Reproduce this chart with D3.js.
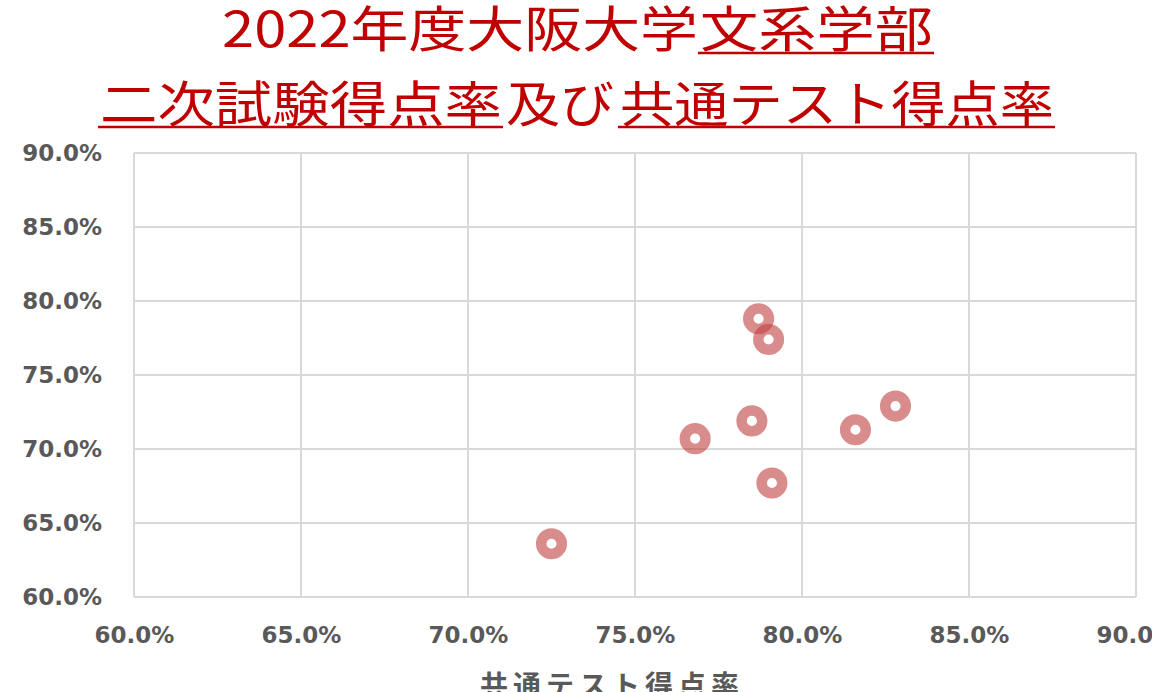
<!DOCTYPE html>
<html><head><meta charset="utf-8">
<script src="https://cdn.jsdelivr.net/npm/d3@7"></script>
<style>html,body{margin:0;padding:0;background:#fff;overflow:hidden}</style>
</head><body>
<svg id="c" width="1152" height="692"></svg>
<script>
// Data
const commonTestRate = [0.725, 0.768, 0.785, 0.787, 0.790, 0.791, 0.816, 0.828];
const secondExamRate = [0.636, 0.707, 0.719, 0.788, 0.774, 0.677, 0.713, 0.729];
const tickValues = [0.60, 0.65, 0.70, 0.75, 0.80, 0.85, 0.90];
const titleLine1 = [{t:"2022年度大阪大学", u:false, x0:222, x1:698}, {t:"文系学部", u:true, x0:700, x1:933}];
const titleLine2 = [{t:"二次試験得点率", u:true, x0:100, x1:502}, {t:"及び", u:false, x0:506, x1:614}, {t:"共通テスト得点率", u:true, x0:620, x1:1054}];
const xTitle = "共通テスト得点率";

const svg = d3.select("#c");
const m = {l:134, r:1136, t:153, b:597};
const x = d3.scaleLinear().domain([0.60, 0.90]).range([m.l, m.r]);
const y = d3.scaleLinear().domain([0.60, 0.90]).range([m.b, m.t]);
const fmt = d3.format(".1%");

// gridlines
const grid = svg.append("g");
grid.selectAll("line.h").data(tickValues).join("line")
  .attr("x1", m.l).attr("x2", m.r).attr("y1", d => y(d)).attr("y2", d => y(d))
  .attr("stroke", "#d9d9d9").attr("stroke-width", 2);
grid.selectAll("line.v").data(tickValues).join("line")
  .attr("y1", m.t).attr("y2", m.b).attr("x1", d => x(d)).attr("x2", d => x(d))
  .attr("stroke", "#d9d9d9").attr("stroke-width", 2);

// axes
const xAxis = svg.append("g").attr("transform", `translate(0,${m.b})`)
  .call(d3.axisBottom(x).tickValues(tickValues).tickFormat(fmt).tickSize(0).tickPadding(30));
const yAxis = svg.append("g").attr("transform", `translate(${m.l},0)`)
  .call(d3.axisLeft(y).tickValues(tickValues).tickFormat(fmt).tickSize(0).tickPadding(32));
[xAxis, yAxis].forEach(a => {
  a.select(".domain").remove();
  a.selectAll("text").attr("fill", "#595959").attr("font-family", "DejaVu Sans")
    .attr("font-weight", "bold").attr("font-size", 23);
});

// points
svg.append("g").selectAll("circle").data(commonTestRate.map((v,i)=>[v, secondExamRate[i]])).join("circle")
  .attr("cx", d => x(d[0])).attr("cy", d => y(d[1])).attr("r", 10.3)
  .attr("fill", "none").attr("stroke", "rgba(192,64,64,0.6)").attr("stroke-width", 10.5);

// title
const red = "#c00000";
function drawLine(segs, baseline, ul){
  segs.forEach(s => {
    svg.append("text").attr("x", s.x0).attr("y", baseline)
      .attr("textLength", s.x1 - s.x0).attr("lengthAdjust", "spacingAndGlyphs")
      .attr("font-family", "Noto Sans CJK JP").attr("font-size", 49)
      .attr("fill", red).text(s.t);
    if (s.u) svg.append("line").attr("x1", s.x0 - 2).attr("x2", s.x1 + 1)
      .attr("y1", ul).attr("y2", ul).attr("stroke", red).attr("stroke-width", 2.5);
  });
}
drawLine(titleLine1, 47, 53);
drawLine(titleLine2, 122, 127);

// x axis title
svg.append("text").attr("x", 612).attr("y", 696).attr("text-anchor", "middle")
  .attr("font-family", "Noto Sans CJK JP").attr("font-weight", "bold").attr("font-size", 28)
  .attr("letter-spacing", 5).attr("fill", "#595959").text(xTitle);
</script>
</body></html>
